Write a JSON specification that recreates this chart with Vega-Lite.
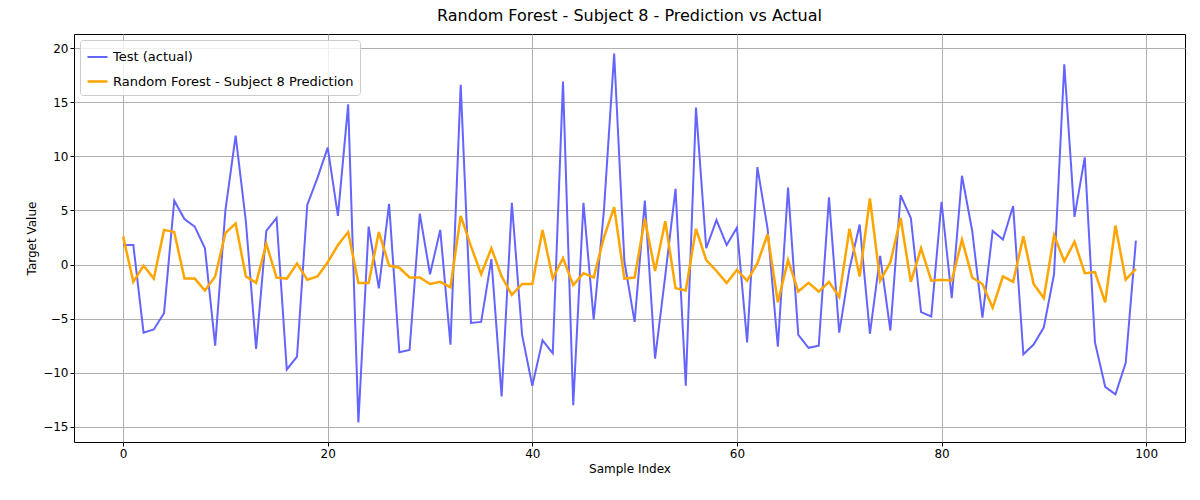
{
  "$schema": "https://vega.github.io/schema/vega-lite/v6.json",
  "width": 1200,
  "height": 500,
  "autosize": {"type": "fit", "contains": "padding"},
  "padding": {"left": 25, "right": 15, "top": 8, "bottom": 26},
  "background": "white",
  "title": {"text": "Random Forest - Subject 8 - Prediction vs Actual", "fontSize": 16, "fontWeight": "normal", "font": "DejaVu Sans", "color": "black", "offset": 10},
  "data": {
    "values": [
      {"a": [1.8,1.8,-6.3,-6.0,-4.5,5.9,4.2,3.5,1.5,-7.5,5.0,11.9,4.0,-7.8,3.1,4.3,-9.7,-8.5,5.5,8.0,10.8,4.5,14.8,-14.6,3.5,-2.2,5.6,-8.1,-7.9,4.7,-0.9,3.2,-7.4,16.6,-5.4,-5.3,0.5,-12.2,5.7,-6.5,-11.2,-7.0,-8.2,16.9,-13.0,5.7,-5.1,5.0,19.5,0.3,-5.3,5.9,-8.7,-1.0,7.0,-11.2,14.5,1.5,4.1,1.8,3.4,-7.2,9.0,3.3,-7.6,7.1,-6.5,-7.7,-7.5,6.2,-6.3,-0.4,3.7,-6.4,0.8,-6.1,6.4,4.3,-4.4,-4.8,5.8,-3.1,8.2,3.1,-4.9,3.1,2.3,5.4,-8.3,-7.4,-5.8,-0.9,18.5,4.4,9.9,-7.2,-11.3,-12.0,-9.1,2.2],
       "p": [2.6,-1.6,-0.1,-1.3,3.2,3.0,-1.3,-1.3,-2.4,-1.1,2.9,3.8,-1.1,-1.7,1.9,-1.2,-1.3,0.1,-1.4,-1.1,0.2,1.8,3.0,-1.7,-1.7,3.0,-0.1,-0.3,-1.2,-1.2,-1.8,-1.6,-2.1,4.5,1.7,-0.9,1.5,-1.1,-2.8,-1.8,-1.8,3.2,-1.3,0.6,-1.9,-0.8,-1.2,2.5,5.3,-1.3,-1.2,4.2,-0.6,4.0,-2.2,-2.4,3.3,0.4,-0.6,-1.7,-0.5,-1.5,0.1,2.8,-3.5,0.4,-2.5,-1.7,-2.5,-1.6,-3.0,3.3,-1.1,6.1,-1.5,0.2,4.3,-1.6,1.5,-1.5,-1.4,-1.5,2.3,-1.2,-1.8,-4.0,-1.1,-1.6,2.6,-1.8,-3.1,2.7,0.3,2.1,-0.8,-0.7,-3.5,3.6,-1.4,-0.4]}
    ]
  },
  "transform": [
    {"flatten": ["a", "p"]},
    {"window": [{"op": "row_number", "as": "rn"}]},
    {"calculate": "datum.rn - 1", "as": "index"},
    {"fold": ["a", "p"], "as": ["key", "value"]},
    {"calculate": "datum.key == 'a' ? 'Test (actual)' : 'Random Forest - Subject 8 Prediction'", "as": "series"}
  ],
  "mark": {"type": "line", "clip": true},
  "encoding": {
    "x": {"field": "index", "type": "quantitative", "title": "Sample Index",
      "scale": {"domain": [-4.8, 103.8], "nice": false, "zero": false},
      "axis": {"values": [0, 20, 40, 60, 80, 100]}},
    "y": {"field": "value", "type": "quantitative", "title": "Target Value",
      "scale": {"domain": [-16.4, 21.3], "nice": false, "zero": false},
      "axis": {"values": [-15, -10, -5, 0, 5, 10, 15, 20]}},
    "color": {"field": "series", "type": "nominal",
      "scale": {"domain": ["Test (actual)", "Random Forest - Subject 8 Prediction"], "range": ["#6464ff", "orange"]},
      "legend": {"title": null, "orient": "top-left", "symbolType": "stroke", "symbolStrokeWidth": 2, "labelFontSize": 13, "labelFont": "DejaVu Sans", "labelColor": "black", "labelLimit": 0, "symbolSize": 400, "padding": 6, "offset": 6, "strokeColor": "#cccccc", "fillColor": "rgba(255,255,255,0.8)", "cornerRadius": 3, "rowPadding": 6}},
    "strokeWidth": {"field": "series", "type": "nominal", "scale": {"domain": ["Test (actual)", "Random Forest - Subject 8 Prediction"], "range": [2, 2.5]}, "legend": null},
    "order": {"field": "index"}
  },
  "config": {
    "view": {"stroke": "black", "strokeWidth": 1},
    "axis": {"grid": true, "gridColor": "#b0b0b0", "gridOpacity": 1, "domain": false, "tickColor": "black", "labelColor": "black", "titleColor": "black", "labelFont": "DejaVu Sans", "titleFont": "DejaVu Sans", "labelFontSize": 12, "titleFontSize": 12, "titleFontWeight": "normal", "tickSize": 4}
  }
}
